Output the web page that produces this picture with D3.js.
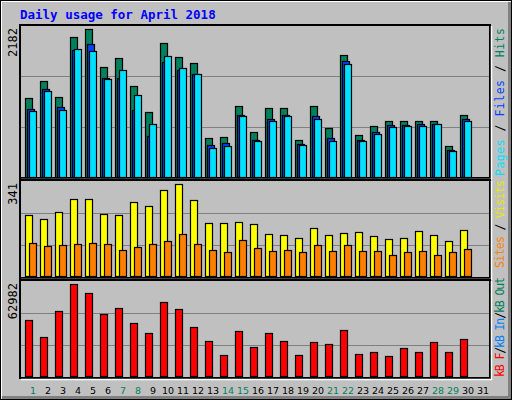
<!DOCTYPE html>
<meta charset="utf-8">
<script src="https://d3js.org/d3.v7.min.js"></script>
<style>body{margin:0;background:#fff}</style>
<div id="chart"></div>
<script>
  // values
  var days = d3.range(1, 32);
  var weekend = [1, 7, 8, 14, 15, 21, 22, 28, 29];
  var hits = [1165, 1415, 1179, 2064, 2182, 1622, 1754, 1341, 958, 1975, 1769, 1681, 575, 590, 1047, 663, 1017, 1017, 545, 1047, 722, 1798, 619, 752, 826, 826, 826, 826, 457, 914];
  var files = [1002, 1297, 1032, 1872, 1960, 1459, 1459, 988, 604, 1695, 1577, 1518, 472, 501, 914, 545, 855, 914, 486, 899, 575, 1710, 545, 663, 766, 766, 781, 781, 398, 855];
  var pages = [973, 1268, 988, 1887, 1857, 1445, 1577, 1209, 781, 1784, 1607, 1518, 427, 457, 899, 531, 825, 899, 472, 855, 531, 1666, 531, 634, 737, 752, 752, 781, 383, 825];
  var visits = [227, 212, 238, 286, 286, 231, 227, 275, 260, 319, 341, 282, 198, 198, 201, 194, 157, 153, 139, 179, 153, 161, 164, 150, 136, 139, 168, 153, 131, 172];
  var sites = [123, 112, 116, 120, 123, 120, 98, 109, 120, 131, 157, 120, 98, 90, 135, 105, 94, 98, 90, 116, 94, 116, 94, 94, 79, 90, 94, 79, 90, 101];
  var kbytes = [38350, 26700, 44500, 62982, 56800, 42400, 46500, 36300, 29400, 50800, 46000, 33600, 23900, 14400, 30800, 19800, 29400, 23900, 14400, 23200, 21800, 31500, 15100, 16500, 13700, 19200, 16500, 23200, 16500, 25300];
  var maxLabels = ["2182", "341", "62982"];

  var W = 512, H = 400;
  var svg = d3.select("#chart").append("svg").attr("width", W).attr("height", H)
    .style("font-family", "DejaVu Sans Mono");

  // background and 3d frame
  svg.append("rect").attr("width", W).attr("height", H).attr("fill", "#c0c0c0");
  svg.append("path").attr("d", "M0,400V0H512").attr("stroke", "#fff").attr("stroke-width", 4).attr("fill", "none");
  svg.append("path").attr("d", "M2,398H510V2").attr("stroke", "#808080").attr("stroke-width", 4).attr("fill", "none");
  svg.append("rect").attr("x", 0.5).attr("y", 0.5).attr("width", W - 1).attr("height", H - 1).attr("fill", "none").attr("stroke", "#000");

  svg.append("text").attr("x", 20).attr("y", 19).attr("fill", "#0000ff")
    .style("font-weight", "bold").style("font-size", "12.5px").text("Daily usage for April 2018");

  var x = d3.scaleLinear().domain([1, 31]).range([25, 475]);

  var panels = [
    { top: 25, bottom: 178, base: 177, peak: 29, max: 2182 },
    { top: 180, bottom: 278, base: 276, peak: 184, max: 341 },
    { top: 280, bottom: 378, base: 376, peak: 284, max: 62982 }
  ];
  var ys = panels.map(function (p) {
    return d3.scaleLinear().domain([0, p.max]).range([p.base, p.peak]);
  });

  panels.forEach(function (p, i) {
    svg.append("rect").attr("x", 20).attr("y", p.top).attr("width", 470).attr("height", p.bottom - p.top)
      .attr("fill", "#c0c0c0").attr("stroke", "#000").attr("stroke-width", 2);
    svg.append("path").attr("d", "M21," + (p.bottom + 1.5) + "H491.5V" + (p.top + 1))
      .attr("stroke", "#fff").attr("stroke-width", 1.5).attr("fill", "none");
    var h = p.bottom - p.top;
    [1, 2].forEach(function (k) {
      var gy = Math.round(p.top + h * k / 3) + 0.5;
      svg.append("line").attr("x1", 21).attr("x2", 489).attr("y1", gy).attr("y2", gy)
        .attr("stroke", "#808080").attr("stroke-width", 1.2);
    });
    svg.append("text").attr("transform", "translate(17," + (p.top + 3) + ") rotate(-90)")
      .attr("text-anchor", "end").style("font-size", "12px").attr("fill", "#000").text(maxLabels[i]);
  });

  function bars(data, yi, off, w, color) {
    svg.append("g").selectAll("rect").data(data).enter().append("rect")
      .attr("x", function (d, i) { return x(i + 1) + off + 0.5; })
      .attr("y", function (d) { return Math.round(ys[yi](d)) + 0.5; })
      .attr("width", w)
      .attr("height", function (d) { return panels[yi].base - Math.round(ys[yi](d)); })
      .attr("fill", color).attr("stroke", "#000").attr("stroke-width", 1.2);
  }
  bars(hits, 0, 0, 7, "#00805c");
  bars(files, 0, 2, 7, "#0040ff");
  bars(pages, 0, 4, 7, "#00e0ff");
  bars(visits, 1, 0, 7, "#ffff00");
  bars(sites, 1, 4, 7, "#ff8000");
  bars(kbytes, 2, 0, 7, "#ff0000");

  svg.append("g").selectAll("text").data(days).enter().append("text")
    .attr("x", function (d) { return x(d) + 8; }).attr("y", 394)
    .attr("text-anchor", "middle").style("font-family", "DejaVu Sans").style("font-size", "9.5px")
    .attr("fill", function (d) { return weekend.indexOf(d) >= 0 ? "#00805c" : "#000"; })
    .text(function (d) { return d; });

  // right side legends, rotated
  function legend(yBottom, len, parts) {
    var t = svg.append("text").attr("transform", "translate(504," + yBottom + ") rotate(-90)")
      .style("font-size", "11.5px").attr("textLength", len).attr("lengthAdjust", "spacing");
    parts.forEach(function (p) { t.append("tspan").attr("fill", p[1]).text(p[0]); });
  }
  legend(176, 148, [["Pages", "#00e0ff"], [" / ", "#000"], ["Files", "#0040ff"], [" / ", "#000"], ["Hits", "#00805c"]]);
  legend(268, 88, [["Sites", "#ff8000"], [" / ", "#000"], ["Visits", "#e8e800"]]);
  legend(377, 100, [["kB F", "#ff0000"], ["/", "#000"], ["kB In", "#0080ff"], ["/", "#000"], ["kB Out", "#00805c"]]);
</script>
